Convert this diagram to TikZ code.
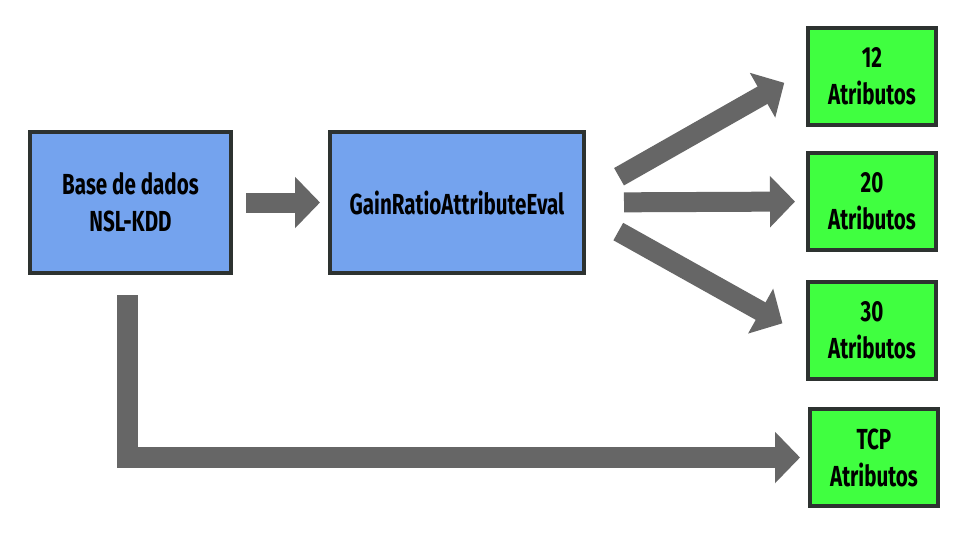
\documentclass[tikz,border=0pt]{standalone}
\usepackage{fontspec}
\setmainfont{Fira Sans}[FakeStretch=0.71]
\usetikzlibrary{arrows.meta}
\definecolor{boxblue}{RGB}{116,163,238}
\definecolor{boxgreen}{RGB}{64,255,64}
\definecolor{boxedge}{RGB}{45,50,48}
\definecolor{arrowgray}{RGB}{102,102,102}

\begin{document}
\begin{tikzpicture}[x=1pt,y=-1pt,
  blockbox/.style={rectangle,draw=boxedge,line width=4pt,fill=boxblue,minimum width=201pt,minimum height=141pt,align=center,font=\fontsize{29}{37}\selectfont\bfseries},
  attrbox/.style={blockbox,fill=boxgreen,minimum width=128pt,minimum height=97pt},
  fat/.style={draw=arrowgray,line width=20pt,-{Triangle[length=25pt,width=50pt]}}]

  \fill[white] (0,0) rectangle (972,538);
  \useasboundingbox (0,0) rectangle (972,538);

  \node[blockbox] (db) at (130.5,202.5) {Base de dados\\NSL-KDD};
  \node[blockbox,minimum width=254pt] (gain) at (457,202.5) {GainRatioAttributeEval};

  \node[attrbox] (a12) at (872,76.5) {12\\Atributos};
  \node[attrbox] (a20) at (872,201.5) {20\\Atributos};
  \node[attrbox] (a30) at (872,330.5) {30\\Atributos};
  \node[attrbox] (tcp) at (874,457.5) {TCP\\Atributos};

  \draw[fat,shorten <=13pt,shorten >=8pt] (db.east) -- (gain.west);
  \draw[fat,shorten <=38pt,shorten >=25pt] ([yshift=7pt]gain.east) -- ([yshift=6pt]a12.west);
  \draw[fat,shorten <=38pt,shorten >=11pt] (gain.east) -- (a20.west);
  \draw[fat,shorten <=37pt,shorten >=27pt] ([yshift=-11pt]gain.east) -- ([yshift=-6pt]a30.west);
  \draw[fat,line width=21pt,shorten <=20pt,shorten >=8pt] ([xshift=-3.5pt]db.south) |- (tcp.west);

\end{tikzpicture}
\end{document}
